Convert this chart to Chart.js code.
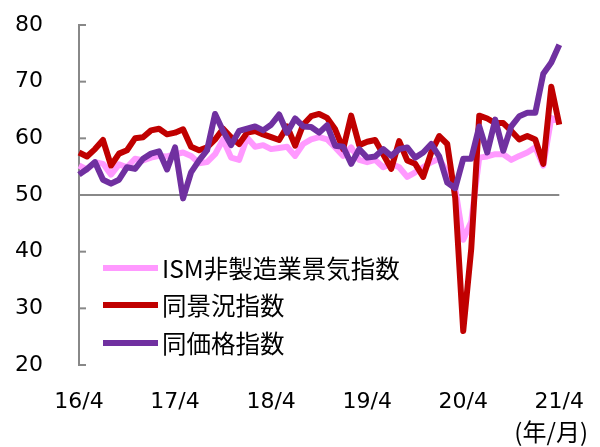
<!DOCTYPE html>
<html>
<head>
<meta charset="utf-8">
<script src="https://cdn.jsdelivr.net/npm/chart.js@4/dist/chart.umd.min.js"></script>
<style>
  body { margin: 0; background: #fff; }
  #wrap { width: 600px; height: 447px; }
</style>
</head>
<body>
<div id="wrap"><canvas id="chart" width="600" height="447"></canvas></div>
<script>
// 16/4 .. 21/4 monthly
var months = [];
for (var y = 16; y <= 21; y++) {
  for (var m = 1; m <= 12; m++) {
    if ((y == 16 && m < 4) || (y == 21 && m > 4)) continue;
    months.push(y + '/' + m);
  }
}

var seriesNames = ['ISM非製造業景気指数', '同景況指数', '同価格指数'];

// ISM非製造業景気指数
var ismIndex = [
  55.2, 54.5, 55.8, 55.5, 53.6, 55.4, 54.9, 56.4, 56.1, 56.6, 56.9, 56.8,
  57.2, 57.5, 56.9, 55.6, 55.8, 57.2, 59.8, 56.6, 56.2, 60.1, 58.5, 58.8,
  58.1, 58.3, 58.5, 56.9, 59.0, 59.8, 60.2, 59.8, 58.4, 56.9, 58.4, 56.2,
  55.8, 56.2, 54.9, 55.5, 54.9, 53.2, 54.0, 54.9, 55.8, 56.4, 54.0, 51.2,
  42.1, 45.3, 56.6, 56.8, 57.2, 57.2, 56.2, 56.9, 57.5, 58.4, 55.2, 63.6,
  63.0
];

// 同景況指数
var businessIndex = [
  57.5, 56.8, 58.1, 59.7, 55.2, 57.3, 57.9, 60.0, 60.2, 61.4, 61.7, 60.7,
  61.0, 61.6, 58.5, 57.9, 58.4, 59.8, 61.7, 60.2, 59.0, 61.0, 61.3, 60.7,
  60.2, 59.7, 62.1, 58.7, 62.4, 63.9, 64.3, 63.6, 61.6, 58.1, 64.0, 58.8,
  59.4, 59.7, 57.2, 54.6, 59.5, 56.1, 55.5, 53.2, 57.5, 60.4, 59.0, 49.5,
  26.0, 40.5, 64.0, 63.5, 62.7, 62.7, 61.3, 59.8, 60.4, 59.8, 55.5, 69.1,
  62.4
];

// 同価格指数
var pricesIndex = [
  53.6, 54.6, 55.8, 52.7, 52.0, 52.7, 54.9, 54.6, 56.4, 57.3, 57.7, 54.5,
  58.4, 49.4, 54.0, 56.1, 57.9, 64.3, 61.3, 58.8, 61.3, 61.7, 62.1, 61.4,
  62.4, 64.2, 61.0, 63.5, 62.1, 62.0, 61.0, 62.3, 58.7, 58.5, 55.5, 58.1,
  56.6, 56.8, 58.1, 56.9, 58.1, 58.4, 56.6, 57.5, 59.0, 56.8, 52.2, 51.2,
  56.4, 56.4, 62.1, 57.5, 63.3, 57.8, 62.1, 63.9, 64.5, 64.5, 71.4, 73.4,
  76.5
];

var yTicks = [20, 30, 40, 50, 60, 70, 80];
var colors = ['#ff99ff', '#c00000', '#7030a0'];

var tickFont = { family: '"DejaVu Sans", sans-serif', size: 22 };
var jpFont = '"Noto Sans CJK JP", sans-serif';

// inward tick marks, the legend inside the plot and the unit label
var extras = {
  id: 'extras',
  afterDraw: function(chart) {
    var ctx = chart.ctx;
    var ys = chart.scales.y;
    var area = chart.chartArea;
    ctx.save();
    ctx.strokeStyle = '#888888';
    ctx.lineWidth = 2;
    yTicks.forEach(function(v) {
      var py = ys.getPixelForValue(v);
      ctx.beginPath();
      ctx.moveTo(area.left, py);
      ctx.lineTo(area.left + 7, py);
      ctx.stroke();
    });

    var rows = [268, 305, 343];
    ctx.font = '24.5px ' + jpFont;
    ctx.textBaseline = 'middle';
    ctx.fillStyle = '#000';
    chart.data.datasets.forEach(function(ds, i) {
      ctx.strokeStyle = ds.borderColor;
      ctx.lineWidth = 6;
      ctx.beginPath();
      ctx.moveTo(103, rows[i]);
      ctx.lineTo(158, rows[i]);
      ctx.stroke();
      ctx.fillText(ds.label, 162, rows[i] + 1);
    });

    ctx.textAlign = 'right';
    ctx.font = '24px ' + jpFont;
    ctx.fillText('(年/月)', 588, 432);
    ctx.restore();
  }
};

var data = {
  labels: months,
  datasets: [
    { label: seriesNames[0], data: ismIndex, borderColor: colors[0], order: 2 },
    { label: seriesNames[1], data: businessIndex, borderColor: colors[1], order: 1 },
    { label: seriesNames[2], data: pricesIndex, borderColor: colors[2], order: 0 }
  ].map(function(d) {
    d.borderWidth = 6;
    d.pointRadius = 0;
    d.tension = 0;
    d.fill = false;
    d.borderJoinStyle = 'round';
    return d;
  })
};

new Chart(document.getElementById('chart'), {
  type: 'line',
  data: data,
  options: {
    responsive: false,
    animation: false,
    devicePixelRatio: 1,
    layout: { padding: { left: 0, top: 25, right: 39, bottom: 0 } },
    plugins: { legend: { display: false }, tooltip: { enabled: false } },
    scales: {
      x: {
        offset: false,
        grid: { display: false },
        border: { display: false },
        afterFit: function(s) { s.height = 82; },
        ticks: {
          autoSkip: false,
          maxRotation: 0,
          padding: 16,
          color: '#000',
          font: tickFont,
          callback: function(v, i) {
            var l = months[i];
            return l.split('/')[1] == '4' ? l : '';
          }
        }
      },
      y: {
        min: 20,
        max: 80,
        afterFit: function(s) { s.width = 79; s.paddingTop = 0; s.paddingBottom = 0; },
        border: { display: true, color: '#888888', width: 2 },
        grid: {
          drawTicks: false,
          lineWidth: 2,
          color: function(c) { return c.tick && c.tick.value == 50 ? '#888888' : 'rgba(0,0,0,0)'; }
        },
        afterBuildTicks: function(s) {
          s.ticks = yTicks.map(function(v) { return { value: v }; });
        },
        ticks: {
          padding: 36,
          color: '#000',
          font: tickFont
        }
      }
    }
  },
  plugins: [extras]
});
</script>
</body>
</html>
